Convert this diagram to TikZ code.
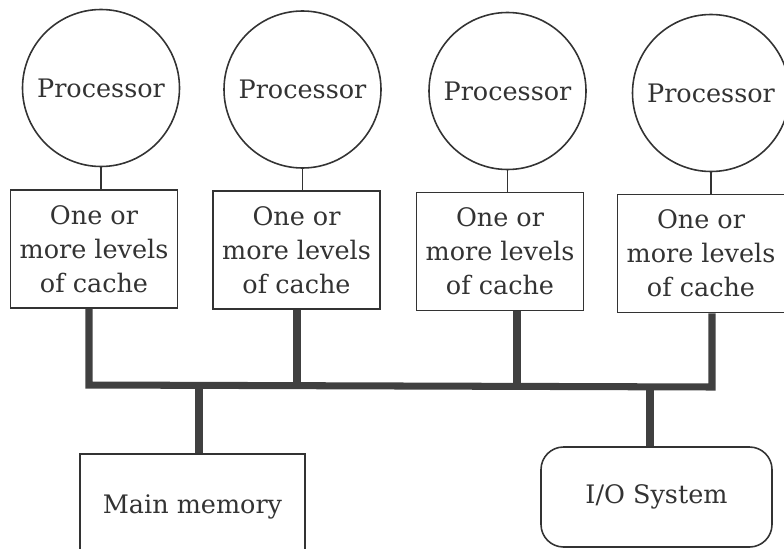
\documentclass[tikz,border=0pt]{standalone}
\usepackage{tikz}
\usepackage{fontspec}
\setmainfont{DejaVu Serif}
\usetikzlibrary{calc}
\tikzset{
	proc/.style={draw=black!80, line width=0.9pt, circle, minimum size=3.14cm, inner sep=0pt, text=black!80},
	cachebox/.style={draw=black!80, line width=0.9pt, minimum width=3.34cm, minimum height=2.36cm, inner sep=0pt, align=center, text=black!80},
	membox/.style={draw=black!80, line width=0.9pt, minimum width=4.5cm, minimum height=2.12cm, inner sep=0pt, text=black!80},
	iobox/.style={draw=black!80, line width=0.9pt, rounded corners=0.45cm, minimum width=4.62cm, minimum height=2.0cm, inner sep=0pt, text=black!80},
	link/.style={draw=black!80, line width=0.9pt},
	bus/.style={draw=black!75, line width=4pt, line join=miter},
}

\begin{document}
\begin{tikzpicture}[font=\fontsize{14.5}{19.3}\selectfont]
			%%%%% START %%%%%
			
			\clip (0, 0) rectangle (15.68, 10.96);
			
			\node[proc] (p1) at (2.02, 9.20) {Processor};
			\node[proc] (p2) at (6.05, 9.17) {Processor};
			\node[proc] (p3) at (10.15, 9.14) {Processor};
			\node[proc] (p4) at (14.22, 9.10) {Processor};
			
			\node[cachebox] (c1) at (1.88, 5.98) {One or\\more levels\\of cache};
			\node[cachebox] (c2) at (5.93, 5.96) {One or\\more levels\\of cache};
			\node[cachebox] (c3) at (10.00, 5.93) {One or\\more levels\\of cache};
			\node[cachebox] (c4) at (14.02, 5.89) {One or\\more levels\\of cache};
			
			\draw[link] (p1.south) -- (p1.south |- c1.north);
			\draw[link] (p2.south) -- (p2.south |- c2.north);
			\draw[link] (p3.south) -- (p3.south |- c3.north);
			\draw[link] (p4.south) -- (p4.south |- c4.north);
			
			\node[membox] (mem) at (3.85, 0.82) {Main memory};
			\node[iobox] (io) at (13.13, 1.02) {I/O System};
			
			% bus taps
			\coordinate (t1) at (1.78, 3.26);
			\coordinate (t2) at (5.94, 3.26);
			\coordinate (t3) at (10.34, 3.24);
			\coordinate (t4) at (14.24, 3.22);
			\coordinate (tm) at (3.98, 3.26);
			\coordinate (ti) at (13.00, 3.22);
			
			\draw[bus] (t1 |- c1.south) -- (t1) -- (t4) -- (t4 |- c4.south);
			\draw[bus] (t2 |- c2.south) -- (t2);
			\draw[bus] (t3 |- c3.south) -- (t3);
			\draw[bus] (tm) -- (tm |- mem.north);
			\draw[bus] (ti) -- (ti |- io.north);
			
			%%%%% END %%%%%
\end{tikzpicture}
\end{document}
